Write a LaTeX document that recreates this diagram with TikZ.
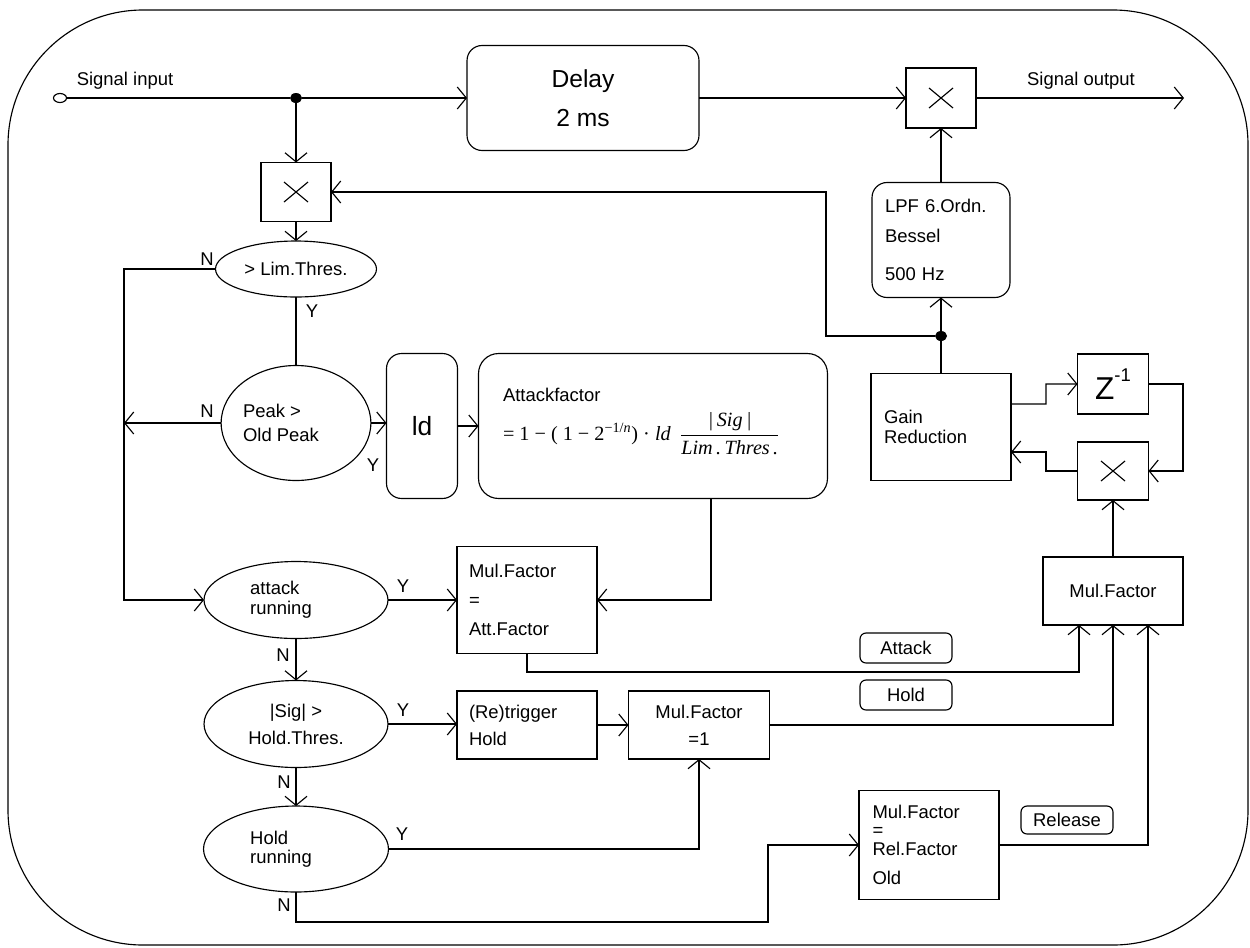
\documentclass[tikz,border=0pt]{standalone}
\usepackage{fontspec}
\usepackage{amsmath}
\setmainfont{Liberation Sans}
\newfontfamily\formulafont{Liberation Serif}
\usepackage{tikz}
\usetikzlibrary{arrows.meta,positioning,shapes.geometric}
\definecolor{flowblack}{RGB}{0,0,0}

\begin{document}
\begin{tikzpicture}[x=0.02cm,y=-0.02cm, line width=0.65pt, draw=flowblack,
  every node/.style={font=\fontsize{10.5}{12.6}\selectfont, inner sep=0pt, outer sep=0pt},
  flow/.style={-{Straight Barb[length=1.8mm,width=4.4mm]}},
  block/.style={draw, rectangle, minimum width=2.8cm, minimum height=2.14cm},
  roundblock/.style={draw, rectangle, rounded corners=0.3cm},
  decision/.style={draw, ellipse},
  mulbox/.style={draw, rectangle, minimum width=1.4cm, minimum height=1.2cm},
  modebox/.style={draw, rectangle, rounded corners=0.12cm, minimum width=1.84cm, minimum height=0.6cm},
  junction/.style={fill=flowblack, ellipse, minimum width=0.24cm, minimum height=0.2cm}]
\useasboundingbox (0,0) rectangle (1250,947);
\draw[rounded corners=2.7cm] (8,10) rectangle (1248,945);

% signal path
\node[draw, ellipse, fill=white, minimum width=0.26cm, minimum height=0.18cm] (sigin) at (60,98) {};
\node (inlabel) at (125,81) {Signal input};
\node[junction] (split) at (296,98) {};
\node[roundblock, minimum width=4.64cm, minimum height=2.1cm, align=center,
      font=\fontsize{14}{22}\selectfont] (delay) at (583,98) {Delay\\2 ms};
\node[mulbox] (mulout) at (941,98) {};
\coordinate (sigout) at (1184,98);
\node (outlabel) at (1081,81) {Signal output};

% gain reduction loop
\node[roundblock, text width=2.24cm, inner xsep=0.26cm, minimum height=2.3cm, align=left] (lpf) at (941,240)
  {LPF 6.Ordn.\\[4.4pt]Bessel\\[9pt]500 Hz};
\node[junction] (grsplit) at (941,336) {};
\node[block, text width=2.28cm, inner xsep=0.26cm, align=left, font=\fontsize{10.5}{11}\selectfont] (gain) at (941,427)
  {Gain\\Reduction};
\node[mulbox, minimum width=1.42cm] (zinv) at (1113,384) {{\fontsize{18}{18}\selectfont Z}\raisebox{10.5pt}{-1}};
\node[mulbox, minimum width=1.42cm, minimum height=1.16cm] (mulfb) at (1113,471) {};
\node[block, minimum height=1.36cm] (mulsel) at (1113,591) {Mul.Factor};

% detector
\node[mulbox, minimum height=1.18cm] (mulin) at (296,192) {};
\node[decision, minimum width=3.22cm, minimum height=1.12cm] (limthres) at (296,269) {> Lim.Thres.};
\node[decision, minimum width=2.98cm, minimum height=2.3cm, align=left, font=\fontsize{10.5}{13.7}\selectfont] (peak) at (296,423)
  {Peak >\\Old Peak\hspace*{0.6cm}};
\node[roundblock, minimum width=1.42cm, minimum height=2.9cm, font=\fontsize{15}{18}\selectfont] (ld) at (422,426) {ld};
\node[roundblock, rounded corners=0.4cm, minimum width=6.98cm, minimum height=2.9cm] (attfactor) at (653,426) {};
\node[anchor=north west, align=left] (attftext) at (503,388)
  {Attackfactor\\[5pt]{\formulafont\fontsize{11.5}{13}\selectfont = 1 − ( 1 − 2\textsuperscript{−1/\textit{n}}) · \textit{ld}\,
   $\dfrac{\mbox{\itshape |\,Sig\,|}}{\mbox{\itshape Lim\,.\,Thres\,.}}$}};

% mode decisions
\node[decision, minimum width=3.68cm, minimum height=1.54cm, align=left, font=\fontsize{10.5}{11.5}\selectfont] (attrun) at (296,600)
  {attack\\running\hspace*{0.6cm}};
\node[block, text width=2.32cm, inner xsep=0.24cm, align=left, font=\fontsize{10.5}{16.5}\selectfont] (mulatt) at (527,600)
  {Mul.Factor\\=\\Att.Factor};
\node[decision, minimum width=3.68cm, minimum height=1.74cm, align=center, font=\fontsize{10.5}{15.4}\selectfont] (holdthres) at (296,724)
  {|Sig| >\\Hold.Thres.};
\node[block, text width=2.32cm, inner xsep=0.24cm, minimum height=1.36cm, align=left, font=\fontsize{10.5}{15.4}\selectfont] (trig) at (527,725)
  {(Re)trigger\\Hold};
\node[block, minimum width=2.82cm, minimum height=1.36cm, align=center, font=\fontsize{10.5}{15.4}\selectfont] (mulone) at (699,725)
  {Mul.Factor\\=1};
\node[decision, minimum width=3.7cm, minimum height=1.72cm, align=left, font=\fontsize{10.5}{11}\selectfont] (holdrun) at (296,849)
  {Hold\\running\hspace*{0.6cm}};
\node[block, text width=2.26cm, inner xsep=0.26cm, minimum height=2.18cm, align=left, font=\fontsize{10.5}{10.5}\selectfont] (relbox) at (929,845)
  {Mul.Factor\\=\\Rel.Factor\\[6.5pt]Old};

\node[modebox] (attlabel) at (906,648) {Attack};
\node[modebox] (holdlabel) at (906,695) {Hold};
\node[modebox, minimum height=0.56cm] (rellabel) at (1067,820) {Release};

% yes / no marks
\foreach \x/\y/\t/\n in {207/259/N/nlim, 312/311/Y/ylim, 207/411/N/npeak, 373/465/Y/ypeak,
    403/586/Y/yatt, 283/655/N/natt, 403/710/Y/ythr, 284/782/N/nthr, 402/834/Y/yhold, 284/905/N/nhold}
  \node (\n) at (\x,\y) {\t};

\coordinate (fbturn) at (826,336);
\coordinate (bus) at (124,269);
\coordinate (attbend) at (527,672);
\coordinate (holdturn) at (768,922);
\coordinate (fbleft) at (1046,471);
\coordinate (zleft) at (1046,404);
\coordinate (zright) at (1183,384);

% connections
\draw (sigin) -- (split);
\draw[flow] (split) -- (delay.west);
\draw[flow] (split) -- (mulin.north);
\draw[flow] (delay.east) -- (mulout.west);
\draw[flow] (mulout.east) -- (sigout);
\draw[flow] (lpf.north) -- (mulout.south);
\draw[flow] (grsplit) -- (lpf.south);
\draw (gain.north) -- (grsplit);
\draw[flow] (grsplit) -- (fbturn) |- (mulin.east);
\draw[flow] (mulin.south) -- (limthres.north);
\draw[flow] (limthres.west) -- (bus) |- (attrun.west);
\draw (limthres.south) -- (peak.north);
\draw[flow] (peak.west) -- (peak.west -| bus);
\draw[flow] (peak.east) -- (peak.east -| ld.west);
\draw[flow] (ld.east) -- (attfactor.west);
\draw[flow] ([xshift=1.16cm]attfactor.south) |- (mulatt.east);
\draw[flow] (attrun.east) -- (mulatt.west);
\draw[flow] (attrun.south) -- (holdthres.north);
\draw[flow] (mulatt.south) -- (attbend) -| ([xshift=-0.68cm]mulsel.south);
\draw[flow] (holdthres.east) -- (holdthres.east -| trig.west);
\draw[flow] (trig.east) -- (mulone.west);
\draw[flow] (mulone.east) -| (mulsel.south);
\draw[flow] (holdthres.south) -- (holdrun.north);
\draw[flow] (holdrun.east) -| (mulone.south);
\draw[flow] (holdrun.south) |- (holdturn) |- (relbox.west);
\draw[flow] (relbox.east) -| ([xshift=0.7cm]mulsel.south);
\draw[flow] (mulsel.north) -- (mulfb.south);
\draw[flow] (mulfb.west) -- (fbleft) |- ([yshift=-0.5cm]gain.east);
\draw[flow] ([yshift=0.46cm]gain.east) -- (zleft) |- (zinv.west);
\draw[flow] (zinv.east) -- (zright) |- (mulfb.east);

% multiplier crosses
\foreach \m in {mulin,mulout,mulfb}
  \draw ([shift={(-12,-10)}]\m.center) -- ([shift={(12,10)}]\m.center)
        ([shift={(-12,10)}]\m.center) -- ([shift={(12,-10)}]\m.center);
\end{tikzpicture}
\end{document}
